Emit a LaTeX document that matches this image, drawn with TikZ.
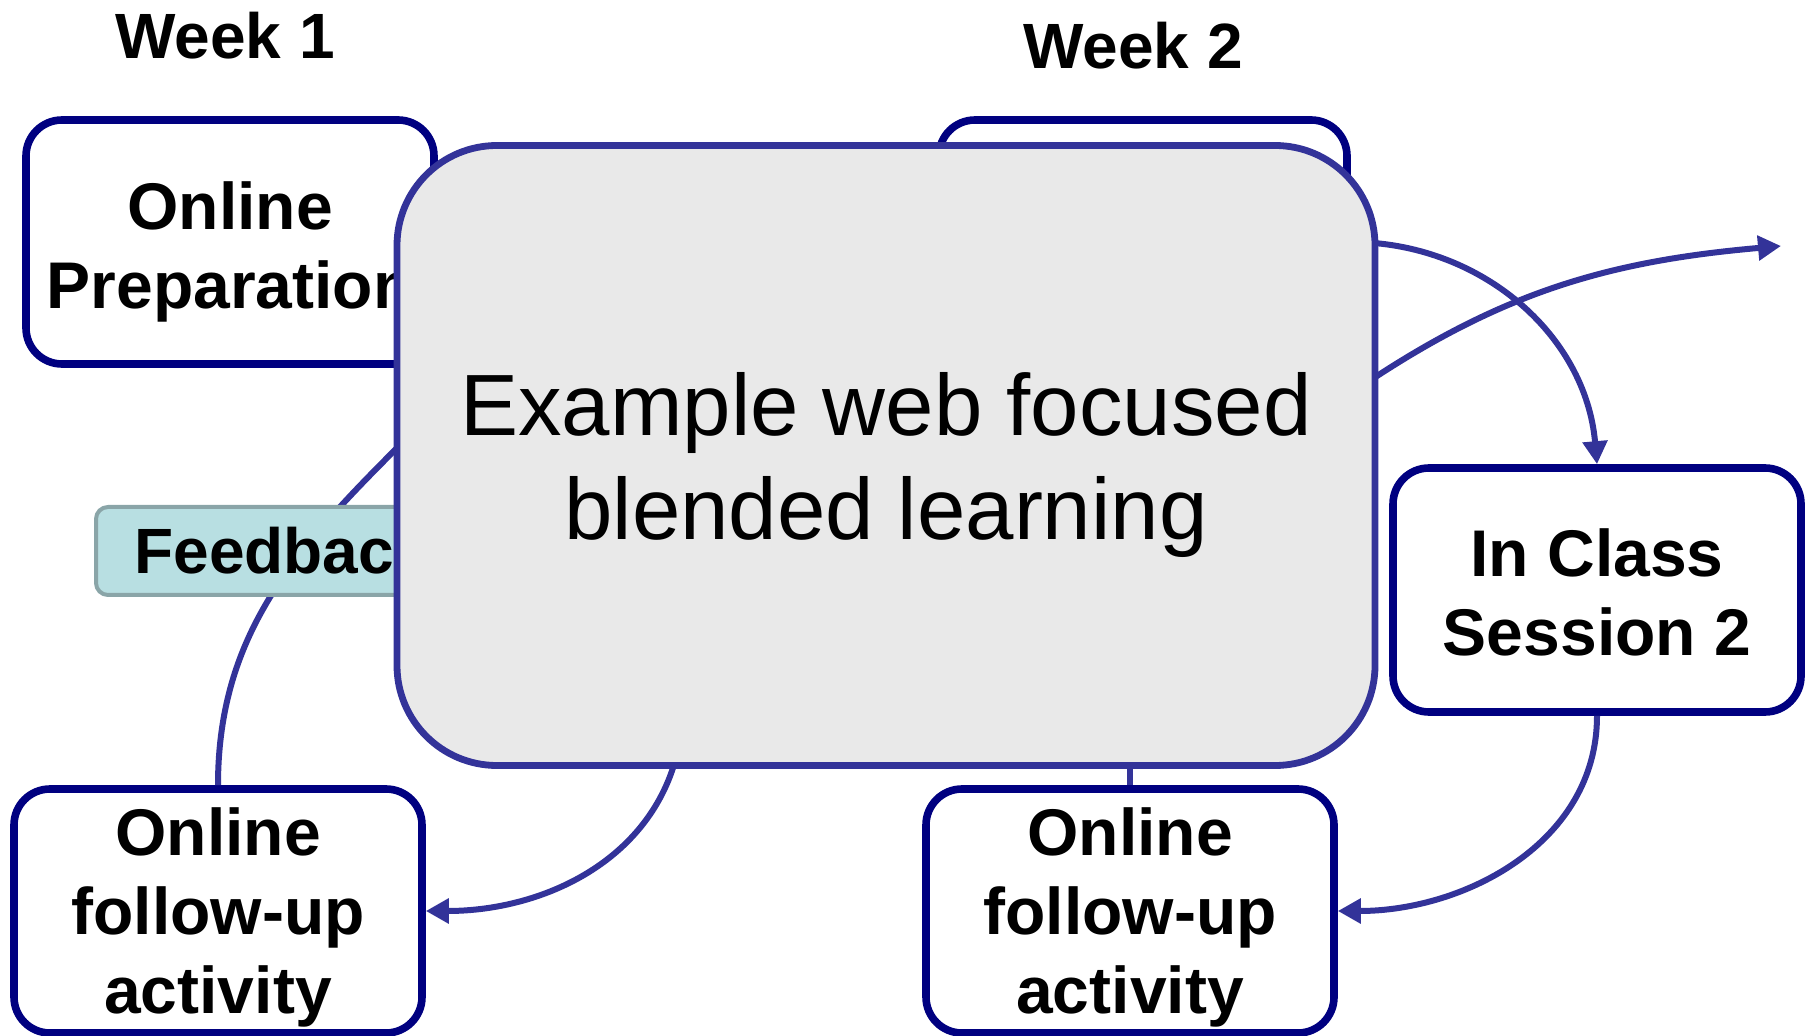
\documentclass[tikz,border=0pt]{standalone}
\usepackage{fontspec}
\setmainfont{Liberation Sans}
\usetikzlibrary{arrows.meta}

\definecolor{navy}{HTML}{000080}
\definecolor{linkblue}{HTML}{333399}
\definecolor{boxgray}{HTML}{E9E9E9}
\definecolor{fbfill}{HTML}{B8DFE2}
\definecolor{fbline}{HTML}{8AA5A8}

\begin{document}
\begin{tikzpicture}[x=0.5pt,y=-0.5pt,
  stage/.style={draw=navy,line width=3.8pt,fill=white,rounded corners=18pt,
    minimum width=204pt,minimum height=122pt,align=center,inner sep=0pt,
    font=\fontsize{33}{39.5}\selectfont\bfseries},
  week/.style={anchor=base,font=\fontsize{32}{38}\selectfont\bfseries},
  link/.style={draw=linkblue,line width=3pt},
  flow/.style={-{Triangle[length=11.5pt,width=12pt]}}]

  \useasboundingbox (0,0) rectangle (1808,1036);

  \node[week] (w1) at (225,59) {Week 1};
  \node[week] (w2) at (1133,69) {Week 2};

  \node[stage] (prep1) at (230,242) {\rule{0pt}{33.5pt}Online\\Preparation};
  \node[stage] (prep2) at (1143,242) {};
  \node[stage] (ic2) at (1597,590) {\rule{0pt}{26pt}In Class\\Session 2};
  \node[stage] (fu1) at (218,911) {\rule{0pt}{30pt}Online\\follow-up\\activity};
  \node[stage] (fu2) at (1130,911) {\rule{0pt}{30pt}Online\\follow-up\\activity};

  % ends hidden under the big box
  \coordinate (fbend) at (430,415);
  \coordinate (ic1) at (680,740);
  \coordinate (fu2src) at (1340,401);
  \coordinate (mid2) at (1130,700);
  \coordinate (next) at (1781,246);

  \draw[link] (fu1.north) to[out=90,in=225] (fbend);
  \draw[link,flow] (ic1) to[out=-100,in=0] (fu1.east);
  \draw[link,flow] (prep2.east) to[out=0,in=95] (ic2.north);
  \draw[link,flow] (fu2src) to[out=35,in=185] (next);
  \draw[link,flow] (ic2.south) to[out=-90,in=0] (fu2.east);
  \draw[link] (mid2) -- (fu2.north);

  \node[draw=fbline,fill=fbfill,line width=2pt,rounded corners=6pt,
    minimum width=186pt,minimum height=44pt,inner sep=0pt,
    font=\fontsize{32}{38}\selectfont\bfseries] (fb) at (282,551) {Feedback};

  \node[draw=linkblue,fill=boxgray,line width=3.4pt,rounded corners=50pt,
    minimum width=489pt,minimum height=310pt,align=center,
    font=\fontsize{43.5}{52}\selectfont] (main) at (886,455.5)
    {\rule{0pt}{41pt}Example web focused\\blended learning};

\end{tikzpicture}
\end{document}
